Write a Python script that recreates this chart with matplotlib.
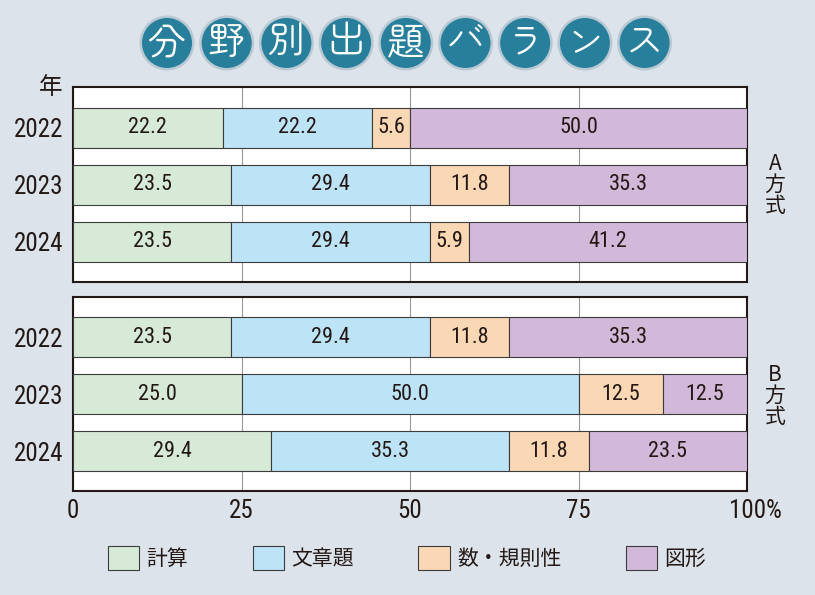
import matplotlib
matplotlib.use("Agg")
import matplotlib.pyplot as plt
import matplotlib.transforms as mtransforms
from matplotlib.patches import Circle, Patch
import numpy as np

# ---- data ----
years = ["2022", "2023", "2024"]
categories = ["計算", "文章題", "数・規則性", "図形"]
a_keisan = [22.2, 23.5, 23.5]
a_bunsho = [22.2, 29.4, 29.4]
a_kisoku = [5.6, 11.8, 5.9]
a_zukei = [50.0, 35.3, 41.2]
b_keisan = [23.5, 25.0, 29.4]
b_bunsho = [29.4, 50.0, 35.3]
b_kisoku = [11.8, 12.5, 11.8]
b_zukei = [35.3, 12.5, 23.5]
x_ticks = [0, 25, 50, 75, 100]
x_ticklabels = ["0", "25", "50", "75", "100%"]
title_text = "分野別出題バランス"
panel_labels = ["A\n方\n式", "B\n方\n式"]

colors = ["#d6eAd7", "#bde3f7", "#fad8b5", "#d2b9da"]
BG = "#dce3ea"
NUM = ["Roboto Condensed", "DejaVu Sans"]
CJK = ["Noto Sans CJK JP", "DejaVu Sans"]
TITLE = ["Zen Maru Gothic", "Noto Sans CJK JP", "DejaVu Sans"]
INK = "#231815"

W, H = 815, 595
fig = plt.figure(figsize=(W / 100, H / 100), dpi=100)
fig.patch.set_facecolor(BG)


def fx(px):
    return px / W


def fy(py):
    return 1 - py / H


def draw_panel(ax, series):
    ypos = np.arange(len(years))
    left = np.zeros(len(years))
    for vals, col in zip(series, colors):
        bars = ax.barh(ypos, vals, left=left, height=0.70, color=col,
                       edgecolor="#3c3c3c", linewidth=0.8, zorder=3)
        ax.bar_label(bars, labels=[f"{v:.1f}" for v in vals],
                     label_type="center", fontsize=16, family=NUM,
                     color=INK, zorder=4)
        left += np.array(vals)
    ax.set_xlim(0, 100)
    ax.set_ylim(2.70, -0.71)
    ax.set_yticks(ypos)
    ax.set_yticklabels(years, family=NUM, fontsize=18, color=INK)
    ax.tick_params(axis="y", length=0, pad=7)
    ax.set_xticks(x_ticks)
    ax.grid(axis="x", color="#9a9a9a", linewidth=0.8, zorder=0)
    ax.set_axisbelow(True)
    ax.set_facecolor("white")
    for s in ax.spines.values():
        s.set_color(INK)
        s.set_linewidth(1.5)


ax_a = fig.add_axes([fx(73), fy(282), fx(674), 195 / H])
ax_b = fig.add_axes([fx(73), fy(491), fx(674), 194 / H])
draw_panel(ax_a, [a_keisan, a_bunsho, a_kisoku, a_zukei])
draw_panel(ax_b, [b_keisan, b_bunsho, b_kisoku, b_zukei])

ax_a.tick_params(axis="x", length=0, labelbottom=False)
ax_b.tick_params(axis="x", length=0, pad=6)
ax_b.set_xticklabels(x_ticklabels, family=NUM, fontsize=18, color=INK)
lbl = ax_b.get_xticklabels()[-1]
lbl.set_transform(lbl.get_transform() +
                  mtransforms.ScaledTranslation(6 / 72, 0, fig.dpi_scale_trans))

# year header
fig.text(fx(51), fy(88), "年", ha="center", va="center", fontsize=17,
         family=CJK, color=INK)
# panel side labels
for lab, yc in zip(panel_labels, [185, 396]):
    fig.text(fx(775), fy(yc), lab, ha="center", va="center", fontsize=15,
             family=CJK, color=INK, linespacing=0.95)

# title circles
ov = fig.add_axes([0, 0, 1, 1], zorder=-1)
ov.set_xlim(0, W)
ov.set_ylim(H, 0)
ov.axis("off")
for i, ch in enumerate(title_text):
    cx = 167 + i * 59.7
    ov.add_patch(Circle((cx, 43), 27.5, facecolor="#b9c9d4", edgecolor="none"))
    ov.add_patch(Circle((cx, 43), 25, facecolor="#277f9c", edgecolor="none"))
    ov.text(cx, 44, ch, ha="center", va="center", color="white",
            fontsize=27, family=TITLE, fontweight="normal")

# legend
handles = [Patch(facecolor=c, edgecolor="#3c3c3c", linewidth=0.8) for c in colors]
leg = fig.legend(handles, categories, ncol=4, loc="center",
                 bbox_to_anchor=(fx(407), fy(558)), frameon=False,
                 prop={"family": CJK, "size": 15}, handlelength=1.5,
                 handleheight=1.35, handletextpad=0.35, columnspacing=3.1)
for t in leg.get_texts():
    t.set_color(INK)

fig.savefig("out.png", dpi=100, facecolor=BG)
